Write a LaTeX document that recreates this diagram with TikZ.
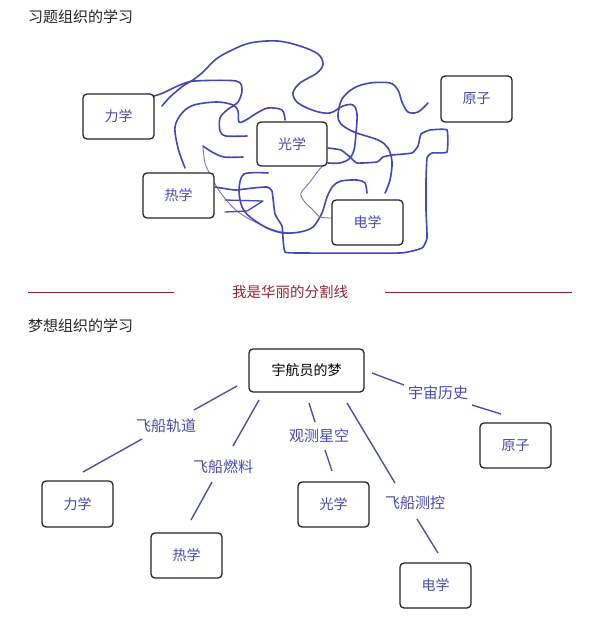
\documentclass[tikz,border=0pt]{standalone}
\usepackage{fontspec}
\setmainfont{Noto Sans CJK SC}
\definecolor{scrib}{HTML}{4646B8}
\definecolor{thinline}{HTML}{7878A8}
\definecolor{boxtxt}{HTML}{4A4AAE}
\definecolor{linkc}{HTML}{5050A8}
\definecolor{sepc}{HTML}{962436}
\definecolor{ttl}{HTML}{262626}
\tikzset{
  box/.style={draw=black!85, fill=white, line width=1.3pt, rounded corners=4pt, minimum width=71pt, minimum height=45pt, inner sep=0pt, font=\fontsize{14}{16}\selectfont, text=boxtxt},
  scr/.style={draw=scrib, line width=1.6pt, line cap=round, line join=round},
  scrthin/.style={draw=thinline, line width=0.9pt, line cap=round, line join=round},
  lbl/.style={text=boxtxt, font=\fontsize{15}{17}\selectfont, inner sep=0pt},
  link/.style={draw=linkc, line width=1.4pt},
  ttlstyle/.style={text=ttl, font=\fontsize{15}{17}\selectfont, inner sep=0pt, anchor=west},
  sepline/.style={draw=sepc, line width=1pt}
}
\begin{document}
\begin{tikzpicture}[x=1pt,y=-1pt]
\fill[white] (0,0) rectangle (592,620);
\useasboundingbox (0,0) rectangle (592,620);

% titles
\node[ttlstyle] (t1) at (28,17) {习题组织的学习};
\node[ttlstyle] (t2) at (28,326) {梦想组织的学习};

% separator
\node[text=sepc, font=\fontsize{14.5}{16}\selectfont, inner sep=0pt] (sep) at (290,292) {我是华丽的分割线};
\coordinate (sl1) at (28,292);
\coordinate (sl2) at (174,292);
\coordinate (sr1) at (385,292);
\coordinate (sr2) at (572,292);
\draw[sepline] (sl1) -- (sl2);
\draw[sepline] (sr1) -- (sr2);

% ---------- top scribbles ----------
\draw[scr] plot[smooth, tension=0.55] coordinates {(162,106) (170,97) (183,86) (193,80) (203,72) (215,60) (228,52) (250,43) (277,41) (300,46) (318,54) (323,64) (317,73) (300,83) (293,93) (298,103) (315,111) (330,113) (343,106) (353,105) (357,114) (356,133) (354,150) (349,159) (340,163) (328,163)};
\draw[scr] plot[smooth, tension=0.55] coordinates {(428,103) (418,112) (408,112) (402,102) (398,90) (390,83) (370,83) (354,88) (342,99) (338,115) (341,124) (354,132) (378,140) (388,148) (392,162) (390,180) (385,193)};
\draw[scr] plot[smooth, tension=0.5] coordinates {(154,96) (163,93) (180,85) (195,81) (236,81) (242,90) (238,102) (227,110) (220,118) (220,131) (226,136) (247,136)};
\draw[scr] plot[smooth, tension=0.55] coordinates {(185,168) (178,148) (175,127) (182,113) (194,105) (217,102) (233,105) (238,111) (239,122) (246,120) (257,113) (268,108) (282,110) (285,120)};
\draw[scr] plot[smooth, tension=0.5] coordinates {(243,157) (224,157) (212,152) (203,146)};
\draw[scrthin] plot[smooth, tension=0.55] coordinates {(203,147) (205,163) (210,174) (220,192) (237,211) (257,223) (277,231) (292,233)};
\draw[scr] plot[smooth, tension=0.5] coordinates {(268,173) (244,174) (239,190) (242,207) (250,217) (267,228) (283,233) (300,232) (313,227) (322,213) (327,197) (333,186) (341,181) (357,180) (365,183) (367,193)};
\draw[scrthin] plot[smooth, tension=0.5] coordinates {(326,163) (318,171) (310,182) (301,193) (304,201) (313,210) (320,217) (332,218)};
\draw[scr] plot[smooth, tension=0.25] coordinates {(215,187) (235,190) (253,188) (267,187) (272,191) (275,214) (282,226) (283,238) (285,252) (300,253) (400,253) (422,248) (427,238) (426,210) (426,180) (427,158) (432,153) (447,152) (447,130) (430,130) (421,134) (418,146) (412,153) (392,155) (383,157) (377,162) (357,163) (350,157) (341,150) (328,148)};
\draw[scr, line width=1.3pt] (225,200) -- (263,201) -- (247,211) -- (225,212);

% ---------- top boxes ----------
\node[box] (tL) at (118.5,116.5) {力学};
\node[box, minimum width=70pt, minimum height=44pt] (tG) at (292,144) {光学};
\node[box, minimum height=46pt] (tY) at (476.5,99) {原子};
\node[box] (tR) at (178.5,195.5) {热学};
\node[box] (tD) at (367.5,222.5) {电学};

% ---------- bottom tree ----------
\node[box, minimum width=115pt, minimum height=43pt, text=black] (bM) at (306.5,370.5) {宇航员的梦};
\node[box] (bY) at (515.5,445.5) {原子};
\node[box, minimum height=46pt] (bL) at (77.5,504) {力学};
\node[box] (bR) at (186.5,555.5) {热学};
\node[box] (bG) at (333.5,504.5) {光学};
\node[box] (bD) at (435.5,585.5) {电学};

\node[lbl] (l1) at (166,426) {飞船轨道};
\node[lbl] (l2) at (223,467) {飞船燃料};
\node[lbl] (l3) at (319,436) {观测星空};
\node[lbl] (l4) at (415,503) {飞船测控};
\node[lbl] (l5) at (438,393) {宇宙历史};

\coordinate (a1) at (237,386); \coordinate (a2) at (194,410);
\coordinate (a3) at (142,439); \coordinate (a4) at (83,472);
\coordinate (b1) at (259,400); \coordinate (b2) at (233,446);
\coordinate (b3) at (212,482); \coordinate (b4) at (191,520);
\coordinate (c1) at (309,403); \coordinate (c2) at (315,422);
\coordinate (c3) at (325,450); \coordinate (c4) at (332,471);
\coordinate (d1) at (347,403); \coordinate (d2) at (395,483);
\coordinate (d3) at (417,519); \coordinate (d4) at (438,553);
\coordinate (e1) at (372,373); \coordinate (e2) at (404,385);
\coordinate (e3) at (472,405); \coordinate (e4) at (501,414);

\draw[link] (a1) -- (a2); \draw[link] (a3) -- (a4);
\draw[link] (b1) -- (b2); \draw[link] (b3) -- (b4);
\draw[link] (c1) -- (c2); \draw[link] (c3) -- (c4);
\draw[link] (d1) -- (d2); \draw[link] (d3) -- (d4);
\draw[link] (e1) -- (e2); \draw[link] (e3) -- (e4);
\end{tikzpicture}
\end{document}
